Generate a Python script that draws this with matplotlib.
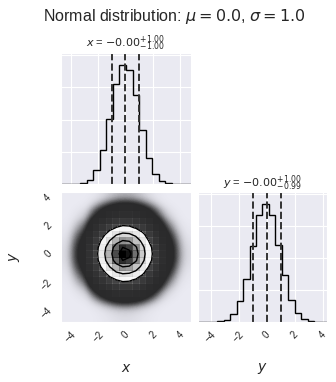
import numpy as np
import matplotlib
matplotlib.use("Agg")
import matplotlib.pyplot as plt
import seaborn as sns
from matplotlib.colors import LinearSegmentedColormap, ListedColormap

# data
x_range = (-4.70, 4.78)
y_range = (-4.90, 4.30)
x_counts = [1, 9, 40, 100, 680, 2240, 5360, 10140, 15440, 18460,
            17680, 13780, 8420, 4060, 1560, 420, 100, 30, 5, 1]
y_counts = [1, 2, 15, 100, 360, 1300, 3220, 6760, 11860, 16740,
            18460, 16740, 12060, 7280, 3380, 1400, 420, 160, 28, 5]
x_quantiles = [-1.00, -0.00, 1.00]
y_quantiles = [-0.99, -0.00, 1.00]
x_title = "$x$ = $-0.00_{-1.00}^{+1.00}$"
y_title = "$y$ = $-0.00_{-0.99}^{+1.00}$"
ticks = [-4, -2, 0, 2, 4]
count_ticks = [5000, 10000, 15000, 20000]
levels = [0.118, 0.393, 0.675, 0.865]  # 0.5, 1, 1.5, 2 sigma

sns.set_style("darkgrid")
plt.rcParams["font.family"] = ["Liberation Sans", "DejaVu Sans"]

x_edges = np.linspace(x_range[0], x_range[1], len(x_counts) + 1)
y_edges = np.linspace(y_range[0], y_range[1], len(y_counts) + 1)
x_mid = 0.5 * (x_edges[1:] + x_edges[:-1])
y_mid = 0.5 * (y_edges[1:] + y_edges[:-1])

fig = plt.figure(figsize=(3.36, 3.82), dpi=100)
ax_x = fig.add_axes([0.1815, 0.518, 0.387, 0.343])
ax_xy = fig.add_axes([0.1815, 0.157, 0.387, 0.340])
ax_y = fig.add_axes([0.589, 0.157, 0.384, 0.340])


def hist_panel(ax, mids, edges, counts, quants, title, show_labels):
    ax.hist(mids, bins=edges, weights=counts, histtype="step", color="k", lw=1.0)
    for q in quants:
        ax.axvline(q, ls="dashed", color="#333333", lw=1.4)
    ax.set_xlim(edges[0], edges[-1])
    ax.set_ylim(0, 1.1 * max(counts))
    ax.set_yticks(count_ticks)
    ax.set_yticklabels([])
    ax.set_xticks(ticks)
    if not show_labels:
        ax.set_xticklabels([])
    ax.set_title(title, fontsize=8, pad=4)


hist_panel(ax_x, x_mid, x_edges, x_counts, x_quantiles, x_title, False)
hist_panel(ax_y, y_mid, y_edges, y_counts, y_quantiles, y_title, True)

# 2d panel: joint counts from the two marginals
n_tot = float(sum(x_counts))
H = np.outer(y_counts, x_counts) / n_tot
Hmax = H.max()

# dense cloud of data points, drawn as an opacity map
logH = np.log(np.maximum(H, 1e-3))
vals = np.linspace(np.log(1e-3), np.log(Hmax), 256)
op = np.minimum(0.92, 1 - np.exp(-1200 * np.exp(vals) / Hmax))
pts_cmap = ListedColormap([(0.1, 0.1, 0.1, a) for a in op])
ax_xy.imshow(logH, extent=(x_edges[0], x_edges[-1], y_edges[0], y_edges[-1]),
             origin="lower", cmap=pts_cmap, vmin=vals[0], vmax=vals[-1],
             interpolation="bicubic", interpolation_stage="data",
             aspect="auto", zorder=-1)

# contour levels from enclosed mass
Hflat = np.sort(H.flatten())[::-1]
sm = np.cumsum(Hflat)
sm /= sm[-1]
V = np.sort([Hflat[sm <= lv][-1] for lv in levels])

ax_xy.contourf(x_mid, y_mid, H, [V.min(), Hmax], colors=["white"], antialiased=False)
density_cmap = LinearSegmentedColormap.from_list("density_cmap", ["k", (1, 1, 1, 0)])
ax_xy.pcolor(x_edges, y_edges, Hmax - H, cmap=density_cmap)
ax_xy.contour(x_mid, y_mid, H, V, colors="k", linewidths=1.0)
ax_xy.set_xlim(x_range)
ax_xy.set_ylim(y_range)
ax_xy.set_xticks(ticks)
ax_xy.set_yticks(ticks)
ax_xy.grid(False)

for ax in (ax_xy, ax_y):
    ax.tick_params(labelsize=7, pad=2, labelcolor="#222222")
    for lab in ax.get_xticklabels():
        lab.set_rotation(45)
for lab in ax_xy.get_yticklabels():
    lab.set_rotation(45)

ax_xy.set_xlabel("$x$", fontsize=10)
ax_xy.xaxis.set_label_coords(0.5, -0.3)
ax_xy.set_ylabel("$y$", fontsize=10)
ax_xy.yaxis.set_label_coords(-0.3, 0.5)
ax_y.set_xlabel("$y$", fontsize=10)
ax_y.xaxis.set_label_coords(0.5, -0.3)

fig.suptitle("Normal distribution: $\\mu = 0.0$, $\\sigma = 1.0$",
             x=0.52, y=0.958, va="center", fontsize=11.5)

fig.savefig("out.png", dpi=100)
